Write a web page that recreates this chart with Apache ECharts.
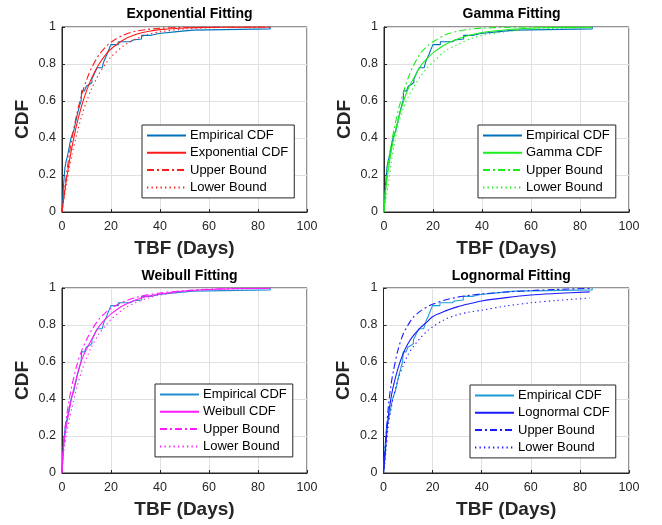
<!DOCTYPE html>
<html>
<head>
<meta charset="utf-8">
<script src="https://cdn.jsdelivr.net/npm/echarts@6/dist/echarts.min.js"></script>
<style>
html,body{margin:0;padding:0;background:#fff;}
#c{width:662px;height:525px;}
</style>
</head>
<body>
<div id="c"></div>
<script>
// ---------- data ----------
const titles = ['Exponential Fitting', 'Gamma Fitting', 'Weibull Fitting', 'Lognormal Fitting'];
const fitNames = ['Exponential CDF', 'Gamma CDF', 'Weibull CDF', 'Lognormal CDF'];
const xTicks = [0, 20, 40, 60, 80, 100];
const yTicks = [0, 0.2, 0.4, 0.6, 0.8, 1];

// Empirical CDF (step points: failure time, CDF after jump)
const empX = [0, 0.2, 0.4, 0.6, 0.9, 1.2, 1.6, 2.2, 2.8, 3.2, 3.7, 4.2, 4.8, 5.3, 5.8, 6.3, 6.8, 7.3, 7.8, 8.0,
  9.2, 9.9, 10.6, 11.3, 12.2, 12.8, 13.6, 14.4, 16.4, 17.0, 17.6, 18.3, 18.9, 19.5, 20.0,
  23.0, 28.0, 29.0, 32.5, 36.5, 39.5, 47.0, 53.5, 85.0];
const empY = [0, 0.04, 0.09, 0.14, 0.19, 0.24, 0.27, 0.30, 0.34, 0.37, 0.40, 0.42, 0.44, 0.47, 0.50, 0.53, 0.555, 0.58, 0.60, 0.655,
  0.665, 0.68, 0.69, 0.70, 0.72, 0.735, 0.76, 0.78, 0.79, 0.81, 0.83, 0.85, 0.87, 0.89, 0.905,
  0.92, 0.93, 0.935, 0.955, 0.965, 0.975, 0.983, 0.99, 1.0];

const fitX = [0, 0.5, 1, 2, 3, 4, 6, 8, 10, 12, 15, 18, 20, 25, 30, 35, 40, 50, 60, 70, 85];
const expFit = [0, 0.052, 0.101, 0.192, 0.273, 0.347, 0.472, 0.573, 0.655, 0.721, 0.797, 0.853, 0.881, 0.930, 0.959, 0.976, 0.986, 0.995, 0.998, 0.999, 1.0];
const expUp  = [0, 0.061, 0.118, 0.221, 0.313, 0.393, 0.528, 0.632, 0.713, 0.777, 0.847, 0.895, 0.918, 0.956, 0.977, 0.987, 0.993, 0.998, 0.999, 1.0, 1.0];
const expLo  = [0, 0.044, 0.087, 0.166, 0.239, 0.305, 0.420, 0.517, 0.597, 0.664, 0.744, 0.805, 0.838, 0.897, 0.935, 0.959, 0.974, 0.989, 0.996, 0.998, 1.0];

const gamFit = [0, 0.09, 0.15, 0.25, 0.33, 0.40, 0.51, 0.60, 0.67, 0.72, 0.79, 0.835, 0.86, 0.905, 0.935, 0.955, 0.97, 0.985, 0.993, 0.997, 0.999];
const gamUp  = [0, 0.12, 0.19, 0.29, 0.37, 0.44, 0.56, 0.65, 0.73, 0.79, 0.86, 0.90, 0.92, 0.958, 0.977, 0.988, 0.994, 0.998, 1.0, 1.0, 1.0];
const gamLo  = [0, 0.05, 0.09, 0.17, 0.27, 0.35, 0.48, 0.565, 0.625, 0.675, 0.735, 0.785, 0.81, 0.87, 0.905, 0.935, 0.955, 0.975, 0.987, 0.993, 0.997];

const weiFit = [0, 0.12, 0.18, 0.27, 0.34, 0.41, 0.52, 0.61, 0.67, 0.72, 0.79, 0.835, 0.86, 0.905, 0.935, 0.955, 0.968, 0.984, 0.992, 0.996, 0.999];
const weiUp  = [0, 0.15, 0.22, 0.32, 0.40, 0.47, 0.58, 0.66, 0.72, 0.77, 0.83, 0.87, 0.89, 0.925, 0.948, 0.963, 0.973, 0.986, 0.993, 0.997, 0.999];
const weiLo  = [0, 0.09, 0.14, 0.22, 0.29, 0.35, 0.46, 0.55, 0.62, 0.68, 0.75, 0.80, 0.83, 0.885, 0.92, 0.945, 0.962, 0.981, 0.991, 0.995, 0.999];

const logX   = [0, 0.5, 1, 2, 3, 4, 6, 8, 10, 12, 15, 18, 20, 25, 30, 35, 40, 50, 60, 70, 84];
const logFit = [0, 0.07, 0.16, 0.31, 0.40, 0.47, 0.57, 0.645, 0.70, 0.74, 0.785, 0.82, 0.845, 0.875, 0.898, 0.915, 0.93, 0.948, 0.962, 0.970, 0.979];
const logUp  = [0, 0.10, 0.20, 0.36, 0.47, 0.55, 0.67, 0.75, 0.80, 0.84, 0.875, 0.90, 0.912, 0.935, 0.95, 0.96, 0.968, 0.978, 0.986, 0.992, 0.998];
const logLo  = [0, 0.05, 0.12, 0.26, 0.34, 0.41, 0.51, 0.58, 0.64, 0.68, 0.73, 0.77, 0.79, 0.83, 0.855, 0.87, 0.88, 0.903, 0.92, 0.932, 0.946];

// ---------- build ----------
const zip = (xs, ys) => xs.map((x, i) => [x, ys[i]]);
const fits = [
  {x: fitX, f: expFit, u: expUp, l: expLo, color: '#ff1a1a', emp: '#0072bd'},
  {x: fitX, f: gamFit, u: gamUp, l: gamLo, color: '#1aee1a', emp: '#0072bd'},
  {x: fitX, f: weiFit, u: weiUp, l: weiLo, color: '#ff1aff', emp: '#1f8fd0'},
  {x: logX, f: logFit, u: logUp, l: logLo, color: '#1a1aff', emp: '#1f9ad8'}
];
const grids = [
  {left: 62, top: 27, width: 245, height: 185},
  {left: 384, top: 27, width: 245, height: 185},
  {left: 62, top: 288, width: 245, height: 185},
  {left: 383.5, top: 288, width: 245.5, height: 185}
];
const legendPos = [
  {left: 142, top: 125},
  {left: 478, top: 125},
  {left: 155, top: 384},
  {left: 470, top: 385}
];
const axisCol = '#262626';
const gridCol = '#e0e0e0';
const font = 'Liberation Sans, Arial, Helvetica, sans-serif';

const xAxis = [], yAxis = [], series = [], legend = [], title = [];
fits.forEach((p, i) => {
  const g = grids[i];
  xAxis.push({
    type: 'value', gridIndex: i, min: 0, max: 100, interval: 20,
    name: 'TBF (Days)', nameLocation: 'middle', nameGap: 27,
    nameTextStyle: {fontFamily: font, fontWeight: 'bold', fontSize: 19, color: axisCol},
    axisLine: {show: true, lineStyle: {color: axisCol, width: 1}},
    axisTick: {show: true, inside: true, length: 3, lineStyle: {color: axisCol}},
    axisLabel: {fontFamily: font, fontSize: 12.5, color: axisCol, margin: 8},
    splitLine: {show: true, lineStyle: {color: gridCol, width: 1}}
  });
  yAxis.push({
    type: 'value', gridIndex: i, min: 0, max: 1, interval: 0.2,
    name: 'CDF', nameLocation: 'middle', nameGap: 30,
    nameTextStyle: {fontFamily: font, fontWeight: 'bold', fontSize: 19, color: axisCol},
    axisLine: {show: true, lineStyle: {color: axisCol, width: 1}},
    axisTick: {show: true, inside: true, length: 3, lineStyle: {color: axisCol}},
    axisLabel: {fontFamily: font, fontSize: 12.5, color: axisCol, margin: 6,
      formatter: v => String(+v.toFixed(1))},
    splitLine: {show: true, lineStyle: {color: gridCol, width: 1}}
  });
  title.push({
    text: titles[i], left: g.left + g.width / 2, top: i < 2 ? 2 : 264, textAlign: 'center',
    textStyle: {fontFamily: font, fontWeight: 'bold', fontSize: 14, color: '#000'}
  });
  const tag = '#' + i;
  const base = {type: 'line', xAxisIndex: i, yAxisIndex: i, symbol: 'none', showSymbol: false,
    animation: false, silent: true};
  series.push(Object.assign({}, base, {
    name: 'Empirical CDF' + tag, step: 'end', data: zip(empX, empY), z: 3,
    lineStyle: {color: p.emp, width: 1.1}, itemStyle: {color: p.emp}
  }));
  series.push(Object.assign({}, base, {
    name: fitNames[i] + tag, data: zip(p.x, p.f), smooth: 0.3, z: 4,
    lineStyle: {color: p.color, width: 1.1}, itemStyle: {color: p.color}
  }));
  series.push(Object.assign({}, base, {
    name: 'Upper Bound' + tag, data: zip(p.x, p.u), smooth: 0.3, z: 4,
    lineStyle: {color: p.color, width: 1.1, type: [7, 3, 2, 3]}, itemStyle: {color: p.color}
  }));
  series.push(Object.assign({}, base, {
    name: 'Lower Bound' + tag, data: zip(p.x, p.l), smooth: 0.3, z: 4,
    lineStyle: {color: p.color, width: 1.1, type: [1.3, 3.2]}, itemStyle: {color: p.color}
  }));
  legend.push({
    data: ['Empirical CDF', fitNames[i], 'Upper Bound', 'Lower Bound'].map(n => n + tag),
    formatter: n => n.split('#')[0],
    orient: 'vertical', left: legendPos[i].left, top: legendPos[i].top,
    itemWidth: 39, itemHeight: 14, itemGap: 4.3,
    padding: [4, 6, 4, 4],
    backgroundColor: '#fff', borderColor: axisCol, borderWidth: 1, borderRadius: 0,
    selectedMode: false,
    itemStyle: {opacity: 0},
    textStyle: {fontFamily: font, fontSize: 13, color: '#000', padding: [0, 0, 0, -1]}
  });
});

const chart = echarts.init(document.getElementById('c'), null, {renderer: 'canvas'});
chart.setOption({
  animation: false,
  backgroundColor: '#fff',
  title: title,
  grid: grids.map(g => Object.assign({show: true, borderColor: axisCol, borderWidth: 1, backgroundColor: 'transparent'}, g)),
  xAxis: xAxis,
  yAxis: yAxis,
  legend: legend,
  series: series
});
</script>
</body>
</html>
